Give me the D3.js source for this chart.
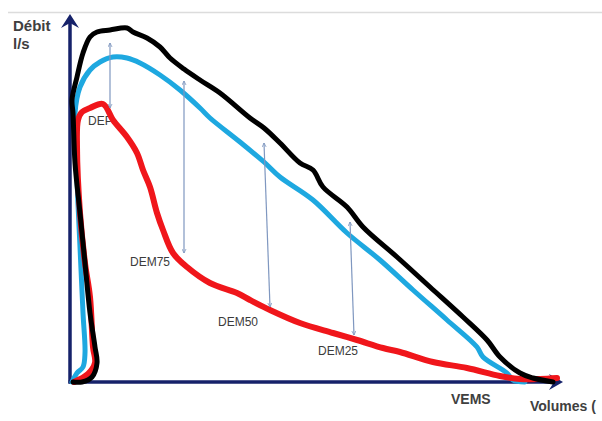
<!DOCTYPE html>
<html>
<head>
<meta charset="utf-8">
<script src="https://cdn.jsdelivr.net/npm/d3@7"></script>
<style>
  body { margin: 0; background: #fff; }
  svg { display: block; }
</style>
</head>
<body>
<script>
// courbes débit-volume : [volume (l), débit (l/s)]
var normale = [[0.03,0],[0.12,0],[0.22,0.125],[0.27,0.475],[0.25,0.875],[0.20,1.725],[0.15,2.975],[0.10,4.225],[0.05,5.475],[0.03,6.725],[0.02,7.05],[0.07,7.625],[0.13,8.225],[0.20,8.625],[0.27,8.75],[0.40,8.80],[0.57,8.85],[0.63,8.75],[0.77,8.60],[0.90,8.375],[1.00,8.10],[1.14,7.825],[1.30,7.55],[1.50,7.225],[1.80,6.60],[1.94,6.35],[2.10,5.975],[2.30,5.475],[2.43,5.30],[2.53,4.875],[2.77,4.375],[2.93,3.875],[3.27,3.125],[3.60,2.375],[3.93,1.625],[4.17,1.05],[4.30,0.625],[4.50,0.225],[4.63,0.10],[4.83,0]];

var legere = [[0.02,0],[0.07,0.225],[0.13,0.375],[0.15,0.725],[0.13,1.725],[0.10,3.375],[0.07,5.05],[0.05,6.725],[0.10,7.375],[0.20,7.80],[0.30,8.00],[0.43,8.125],[0.57,8.10],[0.70,7.975],[0.90,7.675],[1.10,7.30],[1.30,6.85],[1.40,6.60],[1.70,6.00],[1.94,5.50],[2.10,5.125],[2.43,4.55],[2.77,3.725],[3.10,3.05],[3.43,2.30],[3.77,1.55],[4.07,0.875],[4.13,0.625],[4.37,0.225],[4.43,0.05],[4.55,0]];

var obstructive = [[0.04,0],[0.18,0.20],[0.25,0.475],[0.23,0.875],[0.20,2.125],[0.15,2.975],[0.10,4.225],[0.07,5.875],[0.08,6.55],[0.12,6.75],[0.20,6.85],[0.33,6.95],[0.43,6.55],[0.57,6.125],[0.67,5.725],[0.73,5.30],[0.80,4.875],[0.87,4.225],[0.93,3.80],[1.03,3.225],[1.17,2.875],[1.40,2.475],[1.67,2.225],[1.80,2.05],[2.00,1.80],[2.30,1.475],[2.63,1.225],[2.87,1.05],[3.13,0.85],[3.30,0.75],[3.63,0.50],[3.97,0.35],[4.30,0.15],[4.50,0.075],[4.70,0.075],[4.87,0.10]];

// flèches : volume haut, débit haut, volume bas, débit bas
var fleches = [[0.40,8.475,0.40,6.85],[1.14,7.525,1.14,3.225],[1.94,5.975,2.00,1.875],[2.80,4.00,2.84,1.175]];

var etiquettes = ["DEP","DEM75","DEM50","DEM25"];
var etiqPos = [[0.18,6.425],[0.60,2.90],[1.48,1.40],[2.48,0.675]];

var width = 602, height = 421;

var x = d3.scaleLinear().domain([0, 4.93]).range([70, 563]);
var y = d3.scaleLinear().domain([0, 9.2]).range([382, 14]);

var svg = d3.select("body").append("svg")
    .attr("width", width)
    .attr("height", height);

var defs = svg.append("defs");
defs.append("marker")
    .attr("id", "tete")
    .attr("viewBox", "0 0 10 10")
    .attr("refX", 9).attr("refY", 5)
    .attr("markerWidth", 5).attr("markerHeight", 5)
    .attr("markerUnits", "userSpaceOnUse")
    .attr("orient", "auto-start-reverse")
    .append("path")
    .attr("d", "M1,1L9,5L1,9")
    .attr("fill", "none")
    .attr("stroke", "#7f97c0")
    .attr("stroke-width", 1.6);

// trait gris en haut
svg.append("line")
    .attr("x1", 8).attr("x2", width)
    .attr("y1", 12.5).attr("y2", 12.5)
    .attr("stroke", "#dcdcdc")
    .attr("stroke-width", 1.5);

// axes
var navy = "#16226a";
svg.append("line")
    .attr("x1", x(0)).attr("x2", x(0))
    .attr("y1", y(0) + 1.5).attr("y2", y(9.2) + 8)
    .attr("stroke", navy).attr("stroke-width", 3.5);
svg.append("line")
    .attr("x1", x(0) - 1.5).attr("x2", x(4.93) - 8)
    .attr("y1", y(0)).attr("y2", y(0))
    .attr("stroke", navy).attr("stroke-width", 3.5);

svg.append("path")
    .attr("d", "M" + x(0) + "," + y(9.2) + "L" + (x(0) + 9) + "," + (y(9.2) + 14) +
        "L" + x(0) + "," + (y(9.2) + 9) + "L" + (x(0) - 9) + "," + (y(9.2) + 14) + "Z")
    .attr("fill", navy);
svg.append("path")
    .attr("d", "M" + x(4.93) + "," + y(0) + "L" + (x(4.93) - 14) + "," + (y(0) - 8) +
        "L" + (x(4.93) - 9) + "," + y(0) + "L" + (x(4.93) - 14) + "," + (y(0) + 8) + "Z")
    .attr("fill", navy);

// étiquettes DEP / DEM
svg.selectAll(".etiq")
    .data(etiquettes)
    .enter().append("text")
    .attr("class", "etiq")
    .attr("x", (d, i) => x(etiqPos[i][0]))
    .attr("y", (d, i) => y(etiqPos[i][1]))
    .attr("font-family", "Liberation Sans, Arial, sans-serif")
    .attr("font-size", "12px")
    .attr("fill", "#3b3b3b")
    .text(d => d);

var line = d3.line()
    .x(d => x(d[0]))
    .y(d => y(d[1]))
    .curve(d3.curveCatmullRom.alpha(0.5));

var courbes = [
    {data: legere, color: "#1ea8e0", w: 5},
    {data: obstructive, color: "#f0161b", w: 6},
    {data: normale, color: "#000", w: 5}
];

svg.selectAll(".courbe")
    .data(courbes)
    .enter().append("path")
    .attr("class", "courbe")
    .attr("d", d => line(d.data))
    .attr("fill", "none")
    .attr("stroke", d => d.color)
    .attr("stroke-width", d => d.w)
    .attr("stroke-linejoin", "round")
    .attr("stroke-linecap", "round");

// flèches doubles
svg.selectAll(".fleche")
    .data(fleches)
    .enter().append("line")
    .attr("class", "fleche")
    .attr("x1", d => x(d[0])).attr("y1", d => y(d[1]))
    .attr("x2", d => x(d[2])).attr("y2", d => y(d[3]))
    .attr("stroke", "#7f97c0")
    .attr("stroke-width", 1.2)
    .attr("marker-start", "url(#tete)")
    .attr("marker-end", "url(#tete)");

// titres des axes
var gras = "Liberation Sans, Arial, sans-serif";
svg.append("text").attr("x", 13).attr("y", 31)
    .attr("font-family", gras).attr("font-weight", "bold")
    .attr("font-size", "15px").attr("fill", "#404040")
    .text("Débit");
svg.append("text").attr("x", 13).attr("y", 49)
    .attr("font-family", gras).attr("font-weight", "bold")
    .attr("font-size", "15px").attr("fill", "#404040")
    .text("l/s");
svg.append("text").attr("x", 451).attr("y", 404)
    .attr("font-family", gras).attr("font-weight", "bold")
    .attr("font-size", "14px").attr("fill", "#404040")
    .text("VEMS");
svg.append("text").attr("x", 530).attr("y", 411)
    .attr("font-family", gras).attr("font-weight", "bold")
    .attr("font-size", "14px").attr("fill", "#404040")
    .text("Volumes (");
</script>
</body>
</html>
